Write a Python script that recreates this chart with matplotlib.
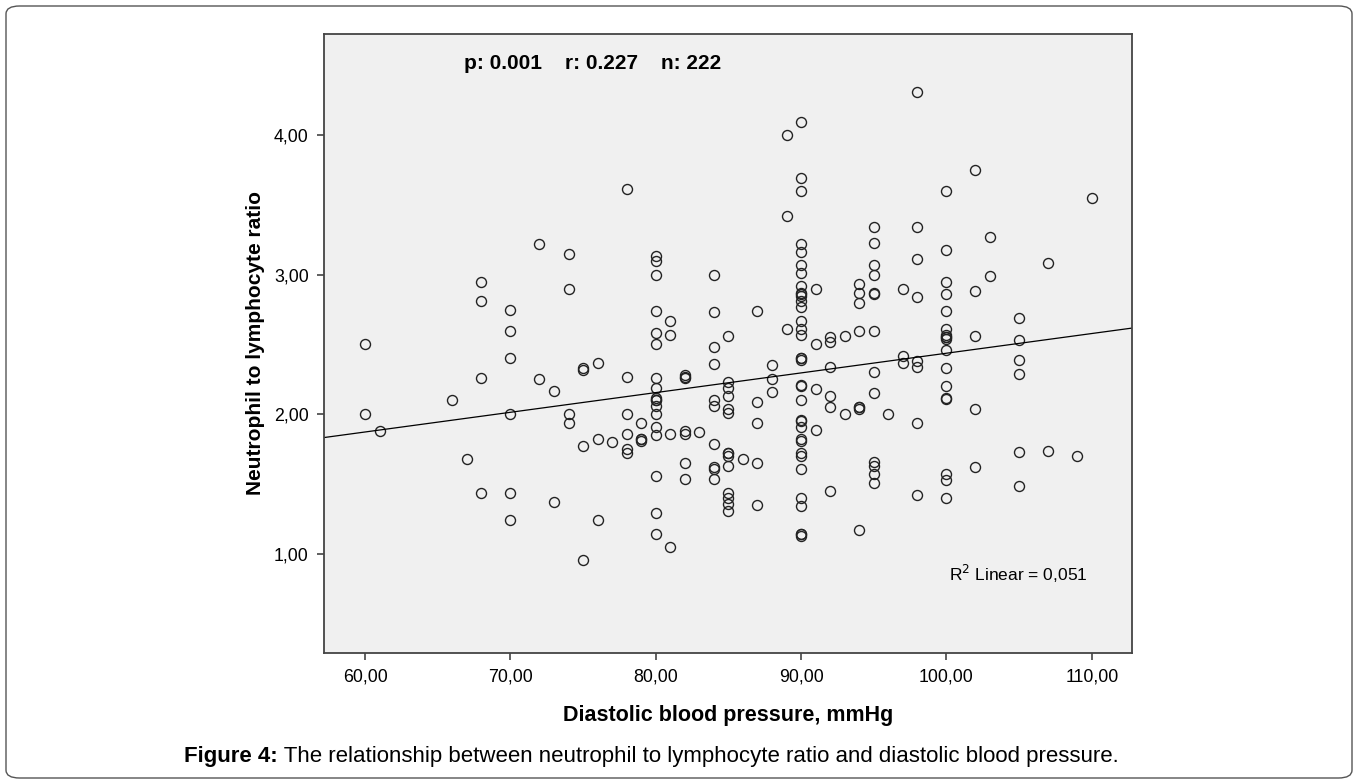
import numpy as np
import matplotlib.pyplot as plt
from matplotlib.patches import FancyBboxPatch

plt.rcParams['font.family'] = ['Liberation Sans', 'DejaVu Sans']

# diastolic blood pressure (x) and NLR values (y), read column by column
dbp_cols = [60, 61, 66, 67, 68, 70, 72, 73, 74, 75, 76, 77, 78, 79, 80, 81, 82, 83, 84, 85,
            86, 87, 88, 89, 90, 91, 92, 93, 94, 95, 96, 97, 98, 100, 102, 103, 105, 107, 109, 110]
nlr_cols = [
    [2.50, 2.00],
    [1.88],
    [2.10],
    [1.68],
    [2.95, 2.81, 2.26, 1.44],
    [2.75, 2.60, 2.40, 2.00, 1.44, 1.24],
    [3.22, 2.25],
    [2.17, 1.37],
    [3.15, 2.90, 2.00, 1.94],
    [2.33, 2.32, 1.77, 0.96],
    [2.37, 1.82, 1.24],
    [1.80],
    [3.61, 2.27, 2.00, 1.86, 1.75, 1.72],
    [1.94, 1.82, 1.81, 1.82],
    [3.13, 3.10, 3.00, 2.74, 2.58, 2.50, 2.26, 2.19, 2.12, 2.10, 2.10, 2.06, 2.00, 1.91, 1.85, 1.56, 1.29, 1.14],
    [2.67, 2.57, 1.86, 1.05],
    [2.28, 2.26, 2.27, 1.88, 1.86, 1.65, 1.54],
    [1.87],
    [3.00, 2.73, 2.48, 2.36, 2.10, 2.06, 1.79, 1.62, 1.61, 1.54],
    [2.56, 2.23, 2.19, 2.13, 2.04, 2.01, 1.72, 1.72, 1.70, 1.63, 1.44, 1.40, 1.36, 1.31],
    [1.68],
    [2.74, 2.09, 1.94, 1.65, 1.35],
    [2.35, 2.25, 2.16],
    [4.00, 3.42, 2.61],
    [4.09, 3.69, 3.60, 3.22, 3.16, 3.07, 3.01, 2.92, 2.87, 2.86, 2.85, 2.81, 2.77, 2.67, 2.61, 2.57,
     2.40, 2.40, 2.39, 2.21, 2.20, 2.10, 1.96, 1.95, 1.91, 1.82, 1.81, 1.72, 1.70, 1.61, 1.40, 1.34,
     1.14, 1.14, 1.13],
    [2.90, 2.50, 2.18, 1.89],
    [2.55, 2.52, 2.34, 2.13, 2.05, 1.45],
    [2.56, 2.00],
    [2.93, 2.87, 2.80, 2.60, 2.05, 2.05, 2.04, 1.17],
    [3.34, 3.23, 3.07, 3.00, 2.87, 2.86, 2.60, 2.30, 2.15, 1.66, 1.63, 1.57, 1.51],
    [2.00],
    [2.90, 2.42, 2.37],
    [4.31, 3.34, 3.11, 2.84, 2.38, 2.34, 1.94, 1.42],
    [3.60, 3.18, 2.95, 2.86, 2.74, 2.61, 2.57, 2.55, 2.55, 2.54, 2.46, 2.33, 2.20, 2.12, 2.11, 1.57, 1.53, 1.40],
    [3.75, 2.88, 2.56, 2.04, 1.62],
    [3.27, 2.99],
    [2.69, 2.53, 2.39, 2.29, 1.73, 1.49],
    [3.08, 1.74],
    [1.70],
    [3.55],
]

x_ticks = [60, 70, 80, 90, 100, 110]
y_ticks = [1, 2, 3, 4]
stats_text = "p: 0.001    r: 0.227    n: 222"
r2_text = "R$^2$ Linear = 0,051"

dbp = np.concatenate([[x] * len(v) for x, v in zip(dbp_cols, nlr_cols)]).astype(float)
nlr = np.concatenate(nlr_cols)

fig = plt.figure(figsize=(13.58, 7.82), dpi=100)
ax = fig.add_axes([0.2386, 0.1650, 0.5950, 0.7915])
ax.set_facecolor('#f0f0f0')

ax.plot(dbp, nlr, linestyle='none', marker='o', markersize=7.2,
        markerfacecolor='none', markeredgecolor='#222222', markeredgewidth=1.0)

# fit line
slope, icpt = np.polyfit(dbp, nlr, 1)
xl = np.array([57.18, 112.77])
ax.plot(xl, icpt + slope * xl, color='black', linewidth=0.9)

ax.set_xlim(57.18, 112.77)
ax.set_ylim(0.291, 4.723)
ax.set_xticks(x_ticks)
ax.set_xticklabels([f"{v:.2f}".replace('.', ',') for v in x_ticks])
ax.set_yticks(y_ticks)
ax.set_yticklabels([f"{v:.2f}".replace('.', ',') for v in y_ticks])
ax.tick_params(direction='out', length=5, width=1.2, color='#444444', labelsize=12.8, pad=6)
for s in ax.spines.values():
    s.set_color('#444444')
    s.set_linewidth(1.3)

ax.set_xlabel("Diastolic blood pressure, mmHg", fontsize=15.5, fontweight='bold', va='center')
ax.xaxis.set_label_coords(0.5, -0.1018)
ax.set_ylabel("Neutrophil to lymphocyte ratio", fontsize=15, fontweight='bold', va='center')
ax.yaxis.set_label_coords(-0.0854, 0.5)

ax.text(0.332, 0.953, stats_text, transform=ax.transAxes, ha='center', va='center',
        fontsize=15, fontweight='bold')
ax.text(0.7735, 0.1276, r2_text, transform=ax.transAxes, ha='left', va='center', fontsize=12.5)

cap1 = fig.text(184 / 1358, 1 - 767 / 782, "Figure 4:", fontsize=16, fontweight='bold',
                ha='left', va='bottom')
fig.canvas.draw()
ax.annotate(" The relationship between neutrophil to lymphocyte ratio and diastolic blood pressure.",
            xy=(1, 0), xycoords=cap1, ha='left', va='bottom', fontsize=16,
            annotation_clip=False)

border = FancyBboxPatch((6 / 1358, 4 / 782), 1 - 12 / 1358, 1 - 10 / 782,
                        boxstyle="round,pad=0,rounding_size=0.01", transform=fig.transFigure,
                        facecolor='none', edgecolor='#555555', linewidth=1.0)
fig.patches.append(border)

fig.savefig("out.png", dpi=100)
